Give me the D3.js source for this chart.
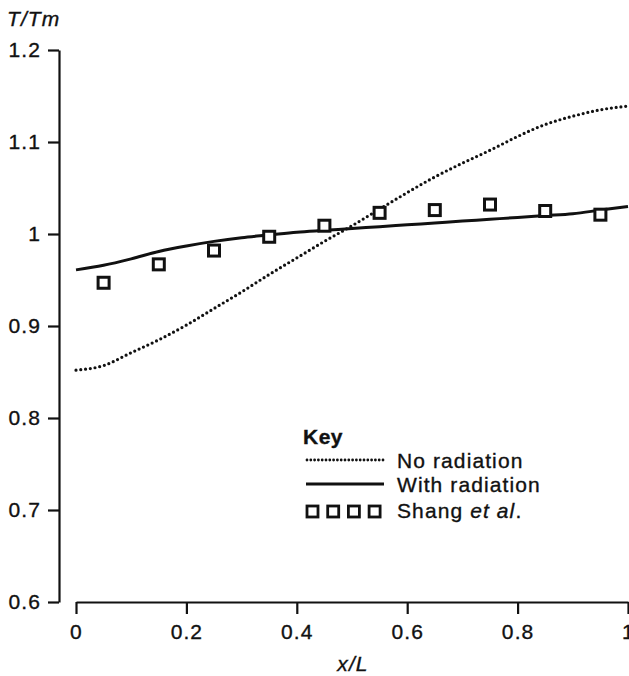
<!DOCTYPE html>
<html>
<head>
<meta charset="utf-8">
<script src="https://cdn.jsdelivr.net/npm/d3@7"></script>
<style>
  body { margin: 0; background: #fff; }
  text { font-family: "Liberation Sans", Arial, Helvetica, sans-serif; fill: #111; letter-spacing: 1.1px;
    stroke: #111; stroke-width: 0.35px; }
</style>
</head>
<body>
<div id="chart"></div>
<script>
// x positions of the model curves
const xGrid = [0, 0.05, 0.1, 0.15, 0.2, 0.25, 0.3, 0.35, 0.4, 0.45, 0.5,
  0.55, 0.6, 0.65, 0.7, 0.75, 0.8, 0.85, 0.9, 0.95, 1.0];
const noRadiation = [0.852, 0.857, 0.871, 0.885, 0.901, 0.919, 0.937, 0.956, 0.974, 0.992, 1.009,
  1.027, 1.045, 1.062, 1.077, 1.091, 1.106, 1.119, 1.128, 1.135, 1.139];
const withRadiation = [0.961, 0.966, 0.973, 0.981, 0.987, 0.992, 0.996, 0.999, 1.002, 1.004, 1.006,
  1.008, 1.010, 1.012, 1.014, 1.016, 1.018, 1.020, 1.022, 1.026, 1.030];
// Shang et al. measurements
const shangX = [0.05, 0.15, 0.25, 0.35, 0.45, 0.55, 0.65, 0.75, 0.85, 0.95];
const shangY = [0.947, 0.967, 0.982, 0.997, 1.009, 1.023, 1.026, 1.032, 1.025, 1.021];
const xTicks = [0, 0.2, 0.4, 0.6, 0.8, 1];
const yTicks = [0.6, 0.7, 0.8, 0.9, 1, 1.1, 1.2];

const width = 629;
const height = 676;
const ink = "#111";

const svg = d3.select("#chart")
  .append("svg")
  .attr("width", width)
  .attr("height", height);

const x = d3.scaleLinear().domain([0, 1]).range([76, 628]);
const y = d3.scaleLinear().domain([0.6, 1.2]).range([602, 50]);

// axes
const xAxis = svg.append("g")
  .attr("transform", "translate(0,602)")
  .call(d3.axisBottom(x).tickValues(xTicks).tickSizeInner(12).tickSizeOuter(0).tickPadding(10)
    .tickFormat(d => d === 0 || d === 1 ? d3.format("d")(d) : d3.format(".1f")(d)));
const yAxis = svg.append("g")
  .attr("transform", "translate(59,0)")
  .call(d3.axisLeft(y).tickValues(yTicks).tickSizeInner(11).tickSizeOuter(0).tickPadding(7)
    .tickFormat(d => d === 1 ? "1" : d3.format(".1f")(d)));

[xAxis, yAxis].forEach(g => {
  g.select(".domain").attr("stroke", ink).attr("stroke-width", 2.2);
  g.selectAll(".tick line").attr("stroke", ink).attr("stroke-width", 2.2);
  g.selectAll(".tick text").attr("font-size", 21).attr("fill", ink)
    .style("font-family", "'Liberation Sans', Arial, sans-serif");
});

// axis titles
svg.append("text")
  .attr("x", 7).attr("y", 26)
  .attr("font-size", 21).attr("font-style", "italic")
  .text("T/Tm");
svg.append("text")
  .attr("x", 353).attr("y", 671)
  .attr("text-anchor", "middle")
  .attr("font-size", 21).attr("font-style", "italic")
  .text("x/L");

const line = d3.line()
  .x((d, i) => x(xGrid[i]))
  .y(d => y(d))
  .curve(d3.curveMonotoneX);

svg.append("path")
  .datum(noRadiation)
  .attr("d", line)
  .attr("fill", "none")
  .attr("stroke", ink)
  .attr("stroke-width", 3.2)
  .attr("stroke-linecap", "round")
  .attr("stroke-dasharray", "0,4.8");

svg.append("path")
  .datum(withRadiation)
  .attr("d", line)
  .attr("fill", "none")
  .attr("stroke", ink)
  .attr("stroke-width", 3);

const sq = 11;
svg.selectAll("rect.shang")
  .data(shangY)
  .enter()
  .append("rect")
  .attr("class", "shang")
  .attr("x", (d, i) => x(shangX[i]) - sq / 2)
  .attr("y", d => y(d) - sq / 2)
  .attr("width", sq)
  .attr("height", sq)
  .attr("fill", "#fff")
  .attr("stroke", ink)
  .attr("stroke-width", 3);

// legend
const legend = svg.append("g").attr("transform", "translate(303,0)");
legend.append("text")
  .attr("x", 0).attr("y", 444)
  .attr("font-size", 21).attr("font-weight", "bold")
  .style("letter-spacing", "0.5px")
  .text("Key");
legend.append("line")
  .attr("x1", 4).attr("x2", 80).attr("y1", 460).attr("y2", 460)
  .attr("stroke", ink).attr("stroke-width", 2.8)
  .attr("stroke-linecap", "round").attr("stroke-dasharray", "0,3.8");
legend.append("text")
  .attr("x", 94).attr("y", 468).attr("font-size", 21)
  .text("No radiation");
legend.append("line")
  .attr("x1", 3).attr("x2", 81).attr("y1", 484).attr("y2", 484)
  .attr("stroke", ink).attr("stroke-width", 2.8);
legend.append("text")
  .attr("x", 94).attr("y", 492).attr("font-size", 21)
  .text("With radiation");
legend.selectAll("rect")
  .data([0, 1, 2, 3])
  .enter()
  .append("rect")
  .attr("x", d => 4 + d * 20.7)
  .attr("y", 506)
  .attr("width", 11).attr("height", 11)
  .attr("fill", "#fff").attr("stroke", ink).attr("stroke-width", 2.8);
const shangLabel = legend.append("text")
  .attr("x", 94).attr("y", 518).attr("font-size", 21);
shangLabel.append("tspan").text("Shang ");
shangLabel.append("tspan").attr("font-style", "italic").text("et al");
shangLabel.append("tspan").text(".");
</script>
</body>
</html>
